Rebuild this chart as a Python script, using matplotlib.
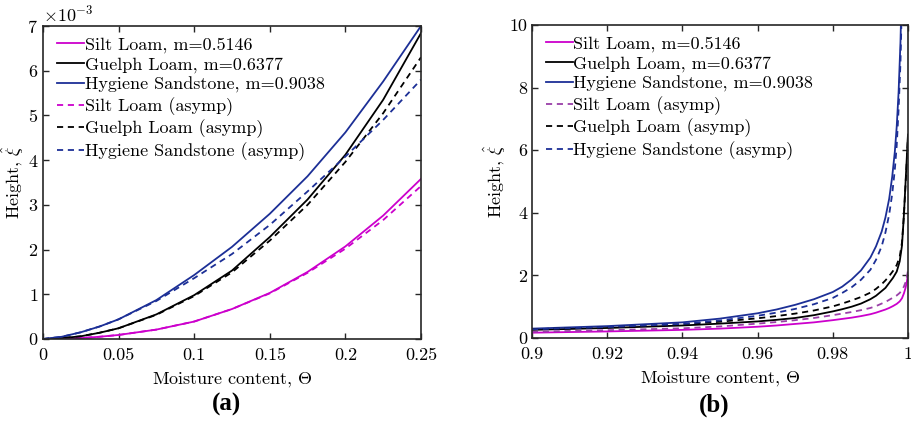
import matplotlib
matplotlib.use("Agg")
import matplotlib.pyplot as plt
import matplotlib.ticker as mticker


# ── Data ──────────────────────────────────────────────────────────────────────

# panel (a): small moisture content, heights in units of 1e-3
theta_a = [0, 0.0125, 0.025, 0.0375, 0.05, 0.075, 0.1, 0.125, 0.15, 0.175, 0.2, 0.225, 0.25]
silt_a = [0, 0.005, 0.02, 0.05, 0.09, 0.21, 0.39, 0.67, 1.03, 1.50, 2.07, 2.76, 3.58]
guelph_a = [0, 0.02, 0.06, 0.14, 0.24, 0.55, 0.98, 1.53, 2.28, 3.12, 4.12, 5.35, 6.84]
hygiene_a = [0, 0.05, 0.15, 0.28, 0.44, 0.87, 1.43, 2.06, 2.80, 3.64, 4.62, 5.76, 7.00]
silt_asym_a = [0, 0.005, 0.02, 0.05, 0.09, 0.21, 0.39, 0.67, 1.02, 1.48, 2.02, 2.66, 3.42]
guelph_asym_a = [0, 0.02, 0.06, 0.14, 0.24, 0.54, 0.96, 1.49, 2.20, 3.00, 3.96, 5.05, 6.30]
hygiene_asym_a = [0, 0.05, 0.15, 0.28, 0.44, 0.85, 1.36, 1.90, 2.55, 3.30, 4.08, 4.90, 5.80]

# panel (b): moisture content close to saturation
theta_b = [0.9, 0.92, 0.94, 0.95, 0.96, 0.965, 0.97, 0.975, 0.98, 0.9825, 0.985,
           0.9875, 0.99, 0.9915, 0.993, 0.994, 0.995, 0.996, 0.997, 0.9978,
           0.9984, 0.9989, 0.99935, 0.9997, 0.9999, 1.0]
silt_b = [0.17, 0.21, 0.26, 0.30, 0.36, 0.40, 0.45, 0.50, 0.57, 0.61, 0.65,
          0.70, 0.76, 0.81, 0.87, 0.91, 0.96, 1.02, 1.09, 1.17,
          1.27, 1.42, 1.60, 1.80, 1.95, 2.08]
silt_asym_b = [0.20, 0.25, 0.31, 0.37, 0.46, 0.51, 0.57, 0.64, 0.73, 0.78, 0.83,
               0.89, 0.96, 1.02, 1.10, 1.15, 1.22, 1.29, 1.36, 1.44,
               1.53, 1.64, 1.78, 1.95, 2.08, 2.19]
guelph_b = [0.26, 0.32, 0.40, 0.46, 0.53, 0.58, 0.64, 0.73, 0.85, 0.92, 1.00,
            1.10, 1.24, 1.35, 1.50, 1.60, 1.76, 1.92, 2.12, 2.45,
            2.95, 3.90, 4.96, 5.80, 6.30, 6.50]
guelph_asym_b = [0.28, 0.34, 0.44, 0.52, 0.63, 0.70, 0.78, 0.88, 1.01, 1.10, 1.20,
                 1.31, 1.45, 1.57, 1.72, 1.84, 1.98, 2.14, 2.33, 2.60,
                 3.05, 3.90, 4.90, 5.70, 6.20, 6.40]

theta_hyg_b = [0.9, 0.92, 0.94, 0.95, 0.96, 0.965, 0.97, 0.975, 0.98, 0.9825,
               0.985, 0.9875, 0.99, 0.9915, 0.993, 0.994, 0.995, 0.9958, 0.9965,
               0.997, 0.9975, 0.998, 0.9985]
hygiene_b = [0.30, 0.38, 0.50, 0.62, 0.79, 0.91, 1.06, 1.24, 1.47, 1.64,
             1.87, 2.16, 2.57, 2.93, 3.40, 3.85, 4.45, 5.15, 5.95,
             6.75, 7.85, 9.45, 11.9]
hygiene_asym_b = [0.28, 0.35, 0.45, 0.56, 0.71, 0.81, 0.93, 1.08, 1.28, 1.44,
                  1.62, 1.86, 2.18, 2.50, 2.93, 3.37, 3.95, 4.60, 5.38,
                  6.15, 7.30, 8.80, 11.3]

labels = [
    "Silt Loam, m=0.5146",
    "Guelph Loam, m=0.6377",
    "Hygiene Sandstone, m=0.9038",
    "Silt Loam (asymp)",
    "Guelph Loam (asymp)",
    "Hygiene Sandstone (asymp)",
]


# ── Style ─────────────────────────────────────────────────────────────────────

MAGENTA = "#cc00cc"
PURPLE = "#9a3fa8"
BLACK = "#000000"
BLUE = "#1c2f96"
AXIS_COLOR = "#262626"
LW = 1.3
DASHES = (3.4, 2.6)
FONTSIZE = 13

plt.rcParams["font.family"] = ["cmr10", "DejaVu Serif"]
plt.rcParams["mathtext.fontset"] = "cm"
plt.rcParams["axes.formatter.use_mathtext"] = True
plt.rcParams["axes.unicode_minus"] = False


def _style_axes(ax):
    for spine in ax.spines.values():
        spine.set_color(AXIS_COLOR)
        spine.set_linewidth(1.2)
    ax.tick_params(direction="in", top=True, right=True, length=4, width=1.0,
                   color=AXIS_COLOR, labelsize=FONTSIZE)
    ax.tick_params(axis="x", pad=6)
    ax.tick_params(axis="y", pad=3.5)
    ax.set_xlabel(r"Moisture content, $\Theta$", fontsize=FONTSIZE, labelpad=5)
    ax.set_ylabel(r"Height, $\hat{\xi}$", fontsize=FONTSIZE, labelpad=1)
    ax.xaxis.set_major_formatter(mticker.FuncFormatter(lambda v, _: f"{v:g}"))


def _legend(ax):
    ax.legend(loc="upper left", frameon=False, fontsize=FONTSIZE,
              handlelength=1.5, handletextpad=0.05, labelspacing=0.22,
              borderaxespad=0.1, bbox_to_anchor=(0.012, 0.995))


# ── Figure ────────────────────────────────────────────────────────────────────

fig = plt.figure(figsize=(9.12, 4.24), dpi=100)
ax_a = fig.add_axes([0.0471, 0.2005, 0.4145, 0.7382])
ax_b = fig.add_axes([0.5833, 0.2028, 0.4123, 0.7382])

# (a)
scale = 1e-3
ax = ax_a
ax.plot(theta_a, [v * scale for v in silt_a], color=MAGENTA, lw=LW, label=labels[0])
ax.plot(theta_a, [v * scale for v in guelph_a], color=BLACK, lw=LW, label=labels[1])
ax.plot(theta_a, [v * scale for v in hygiene_a], color=BLUE, lw=LW, label=labels[2])
ax.plot(theta_a, [v * scale for v in silt_asym_a], color=MAGENTA, lw=LW, ls="--", dashes=DASHES, label=labels[3])
ax.plot(theta_a, [v * scale for v in guelph_asym_a], color=BLACK, lw=LW, ls="--", dashes=DASHES, label=labels[4])
ax.plot(theta_a, [v * scale for v in hygiene_asym_a], color=BLUE, lw=LW, ls="--", dashes=DASHES, label=labels[5])
ax.set_xlim(0, 0.25)
ax.set_ylim(0, 7e-3)
ax.set_xticks([0, 0.05, 0.1, 0.15, 0.2, 0.25])
ax.set_yticks([i * scale for i in range(8)])
_style_axes(ax)
ax.ticklabel_format(axis="y", style="sci", scilimits=(0, 0), useMathText=True)
ax.yaxis.get_offset_text().set_fontsize(FONTSIZE)
_legend(ax)

# (b)
ax = ax_b
ax.plot(theta_b, silt_b, color=MAGENTA, lw=LW, label=labels[0])
ax.plot(theta_b, guelph_b, color=BLACK, lw=LW, label=labels[1])
ax.plot(theta_hyg_b, hygiene_b, color=BLUE, lw=LW, label=labels[2])
ax.plot(theta_b, silt_asym_b, color=PURPLE, lw=LW, ls="--", dashes=DASHES, label=labels[3])
ax.plot(theta_b, guelph_asym_b, color=BLACK, lw=LW, ls="--", dashes=DASHES, label=labels[4])
ax.plot(theta_hyg_b, hygiene_asym_b, color=BLUE, lw=LW, ls="--", dashes=DASHES, label=labels[5])
ax.set_xlim(0.9, 1.0)
ax.set_ylim(0, 10)
ax.set_xticks([0.9, 0.92, 0.94, 0.96, 0.98, 1.0])
ax.set_yticks([0, 2, 4, 6, 8, 10])
_style_axes(ax)
ax.yaxis.set_major_formatter(mticker.FuncFormatter(lambda v, _: f"{v:g}"))
_legend(ax)

fig.text(0.248, 0.045, "(a)", ha="center", va="center", fontsize=18,
         fontweight="bold", family="Liberation Serif")
fig.text(0.783, 0.045, "(b)", ha="center", va="center", fontsize=18,
         fontweight="bold", family="Liberation Serif")

fig.savefig("out.png", dpi=100, facecolor="white")
